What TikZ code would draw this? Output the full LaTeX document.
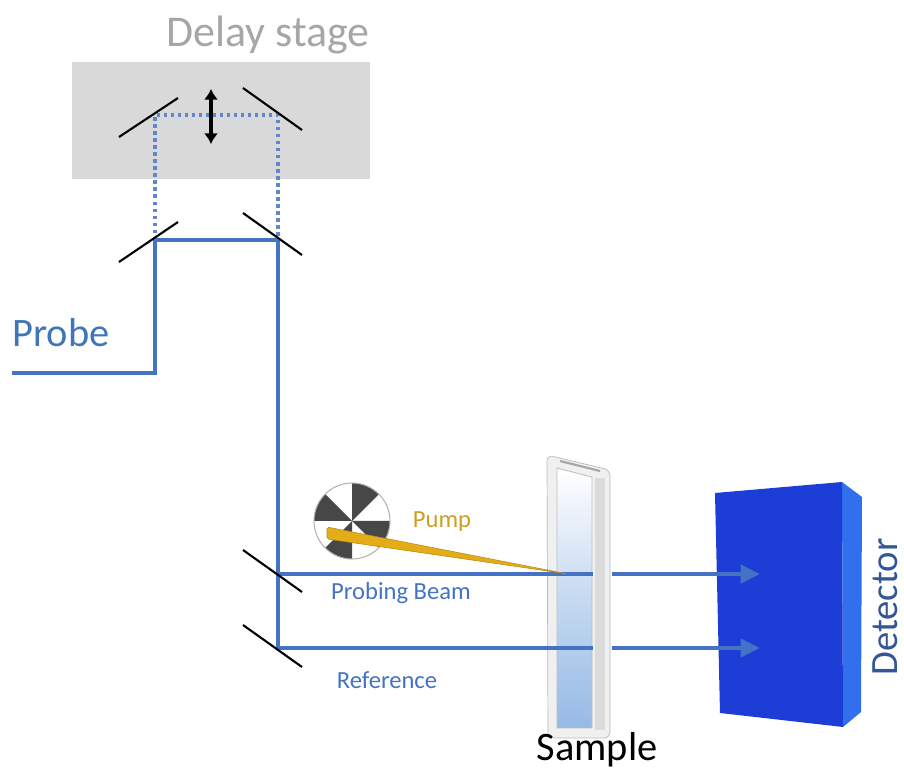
\documentclass[tikz,border=0pt]{standalone}
\usepackage{fontspec}
\setmainfont{Carlito}
\usepackage{tikz}
\usetikzlibrary{arrows.meta,positioning}

\definecolor{beamblue}{RGB}{68,114,196}
\definecolor{probetext}{RGB}{63,118,184}
\definecolor{pumpgold}{RGB}{228,172,24}
\definecolor{pumptext}{RGB}{204,158,36}
\definecolor{stagegray}{RGB}{217,217,217}
\definecolor{detfront}{RGB}{28,62,214}
\definecolor{detside}{RGB}{48,112,236}
\definecolor{dettext}{RGB}{52,86,150}
\definecolor{cuvette}{RGB}{150,186,230}

\begin{document}
\begin{tikzpicture}[x=0.02cm,y=-0.02cm,
	beam/.style={draw=beamblue,line width=2.8pt},
	delayed/.style={draw=beamblue!85,line width=1.9pt,dash pattern=on 1.9pt off 2.1pt},
	mirror/.style={draw=black,line width=1.2pt},
	tip/.style={-{Triangle[length=11pt,width=10pt]}},
	big/.style={inner sep=0pt,font=\fontsize{23}{25}\selectfont},
	small/.style={inner sep=0pt,font=\fontsize{14}{16}\selectfont}]
	\useasboundingbox (0,0) rectangle (904,770);

	% delay stage
	\fill[stagegray] (72,62) rectangle (370,179);
	\node[big,font=\fontsize{25}{27}\selectfont,text=gray!70] (stage) at (268,35) {Delay stage};

	% beam corners
	\coordinate (pin) at (12,373);
	\coordinate (up) at (155,373);
	\coordinate (m1) at (155,240);
	\coordinate (m2) at (278,240);
	\coordinate (d1) at (155,115);
	\coordinate (d2) at (278,115);
	\coordinate (m3) at (278,574);
	\coordinate (m4) at (278,648);

	% chopper
	\coordinate (chop) at (352,521);
	\fill[white] (chop) circle[radius=38];
	\foreach \a in {0,90,180,270}
		\fill[black!72] (chop) -- ++(\a:38) arc[start angle=\a,end angle=\a+45,radius=38] -- cycle;
	\draw[gray!60,line width=0.6pt] (chop) circle[radius=38];

	% cuvette
	\draw[gray!55,fill=gray!12,rounded corners=3.4pt] (547,455) -- (610,470) -- (610,738) -- (548,738) -- cycle;
	\fill[gray!28] (595,478) rectangle (605,730);
	\shade[top color=white,bottom color=cuvette,middle color=cuvette!55] (557,468) -- (592,477) -- (592,728) -- (557,728) -- cycle;
	\draw[gray!50,line width=0.5pt] (557,468) -- (592,477) -- (592,728) -- (557,728) -- cycle;
	\draw[gray!70,line width=1.2pt] (560,461) -- (600,471);
	\coordinate (s1) at (593,574);
	\coordinate (s2) at (593,648);
	\coordinate (o1) at (612,574);
	\coordinate (o2) at (612,648);

	% detector
	\fill[detside] (842,482) -- (862,497) -- (861,712) -- (843,727) -- cycle;
	\fill[detfront] (715,493) -- (842,482) -- (843,727) -- (720,713) -- cycle;
	\coordinate (t1) at (760,574);
	\coordinate (t2) at (760,648);

	% probe path
	\draw[beam,line join=miter] (pin) -- (up) -- (m1) -- (m2) -- (m4) -- (s2);
	\draw[beam] (m3) -- (s1);
	\draw[delayed] (m1) -- (d1) -- (d2) -- (m2);
	\draw[beam,tip] (o1) -- (t1);
	\draw[beam,tip] (o2) -- (t2);

	% pump
	\fill[pumpgold,draw=pumpgold!80!black,line width=0.3pt,rounded corners=1pt] (327,527) -- (327,539) -- (568,574) -- cycle;

	% mirrors
	\draw[mirror] (d1) +(-36,22) -- +(23,-17);
	\draw[mirror] (d2) +(-35,-27) -- +(24,15);
	\draw[mirror] (m1) +(-36,22) -- +(23,-18);
	\draw[mirror] (m2) +(-35,-27) -- +(24,15);
	\draw[mirror] (m3) +(-35,-24) -- +(24,18);
	\draw[mirror] (m4) +(-35,-23) -- +(24,19);

	\draw[line width=2.4pt,{Latex[length=6pt,width=8pt]}-{Latex[length=6pt,width=8pt]}] (211,89) -- (211,144);

	% labels
	\node[big,text=probetext] (probe) at (61,333) {Probe};
	\node[small,text=pumptext] (pump) at (442,522) {Pump};
	\node[small,text=beamblue] (probing) at (401,593) {Probing Beam};
	\node[small,text=beamblue] (ref) at (387,680) {Reference};
	\node[big] (sample) at (597,750) {Sample};
	\node[big,font=\fontsize{22}{24}\selectfont,text=dettext,rotate=90] (det) at (885,607) {Detector};
\end{tikzpicture}
\end{document}
